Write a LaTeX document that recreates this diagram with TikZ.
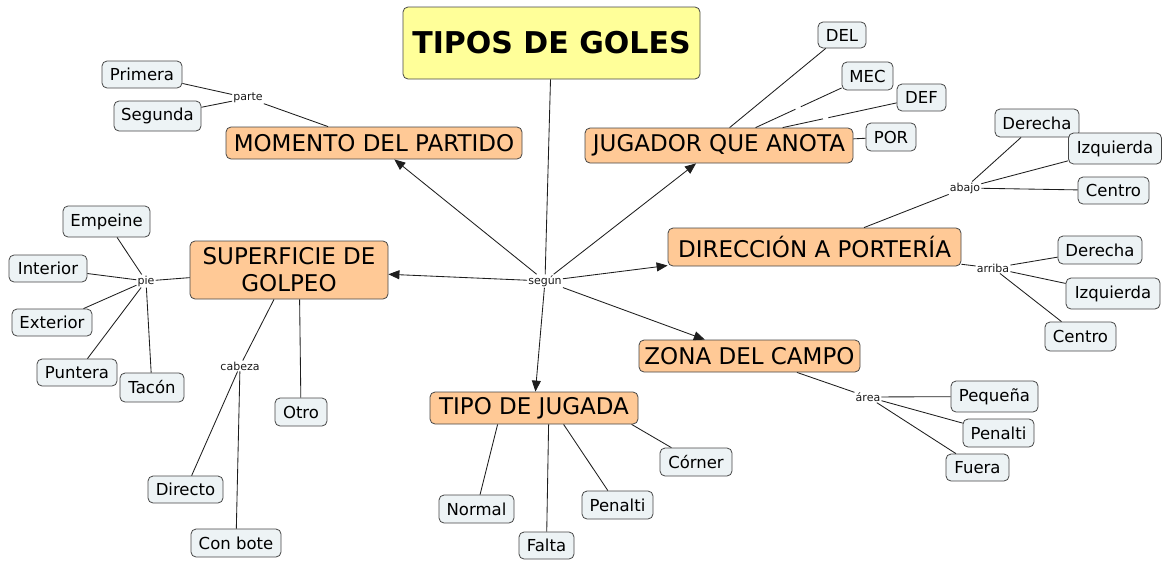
\documentclass[tikz,border=0pt]{standalone}
\usepackage{fontspec}
\setmainfont{DejaVu Sans}
\usetikzlibrary{arrows.meta,calc}
\definecolor{orangec}{RGB}{255,201,150}
\definecolor{leafc}{RGB}{237,243,245}
\definecolor{titlec}{RGB}{255,255,153}
\definecolor{bordc}{RGB}{70,70,70}
\definecolor{linec}{RGB}{30,30,30}
\tikzset{
  base/.style={draw=bordc, line width=0.8pt, rounded corners=5pt, inner sep=0pt, align=center},
  titlebox/.style={base, fill=titlec, font=\fontsize{30}{34}\selectfont\bfseries},
  concept/.style={base, fill=orangec, font=\fontsize{23}{27}\selectfont},
  leaf/.style={base, fill=leafc, font=\fontsize{16.5}{19}\selectfont},
  lnk/.style={inner sep=1pt, font=\fontsize{11}{12}\selectfont, text=black!90},
  gapn/.style={inner sep=0pt, minimum size=5pt},
  conn/.style={draw=linec, line width=0.85pt},
  arr/.style={conn, -{Triangle[length=11pt,width=9pt]}},
}
\begin{document}
\begin{tikzpicture}[x=1pt,y=-1pt]
\useasboundingbox (0,0) rectangle (1162,560);
% main nodes
\node[titlebox, minimum width=297, minimum height=72] (title) at (551.5,43) {TIPOS DE GOLES};
\node[concept, minimum width=296, minimum height=32] (mom) at (374,143) {MOMENTO DEL PARTIDO};
\node[concept, minimum width=268, minimum height=35] (jug) at (719,145.5) {JUGADOR QUE ANOTA};
\node[concept, minimum width=198, minimum height=58] (sup) at (289,270) {SUPERFICIE DE\\GOLPEO};
\node[concept, minimum width=293, minimum height=38] (dir) at (814.5,247) {DIRECCIÓN A PORTERÍA};
\node[concept, minimum width=221, minimum height=32] (zona) at (749.5,356) {ZONA DEL CAMPO};
\node[concept, minimum width=208, minimum height=32] (tipo) at (534,408) {TIPO DE JUGADA};
% link labels
\node[lnk] (segun) at (545,281) {según};
\node[lnk] (parte) at (248,98) {parte};
\node[lnk] (abajo) at (965,188) {abajo};
\node[lnk] (arriba) at (993,268) {arriba};
\node[lnk] (area) at (868,397) {área};
\node[lnk] (pie) at (146,281) {pie};
\node[lnk] (cabeza) at (240,366) {cabeza};
% leaves
\node[leaf, minimum width=80, minimum height=27] (primera) at (142,74.5) {Primera};
\node[leaf, minimum width=87, minimum height=30] (segunda) at (157.5,116) {Segunda};
\node[leaf, minimum width=48, minimum height=26] (del) at (842,35) {DEL};
\node[leaf, minimum width=51, minimum height=28] (mec) at (867.5,76) {MEC};
\node[leaf, minimum width=49, minimum height=27] (def) at (921.5,97.5) {DEF};
\node[leaf, minimum width=50, minimum height=28] (por) at (891,137) {POR};
\node[leaf, minimum width=84, minimum height=28] (der1) at (1037,123) {Derecha};
\node[leaf, minimum width=93, minimum height=31] (izq1) at (1115,148.5) {Izquierda};
\node[leaf, minimum width=71, minimum height=27] (cen1) at (1113.5,190.5) {Centro};
\node[leaf, minimum width=84, minimum height=28] (der2) at (1100,250) {Derecha};
\node[leaf, minimum width=94, minimum height=31] (izq2) at (1113,293.5) {Izquierda};
\node[leaf, minimum width=71, minimum height=29] (cen2) at (1080.5,336.5) {Centro};
\node[leaf, minimum width=87, minimum height=31] (peq) at (994.5,396.5) {Pequeña};
\node[leaf, minimum width=71, minimum height=28] (pen1) at (998.5,433) {Penalti};
\node[leaf, minimum width=63, minimum height=27] (fuera) at (977.5,467.5) {Fuera};
\node[leaf, minimum width=72, minimum height=28] (corner) at (696,462) {Córner};
\node[leaf, minimum width=71, minimum height=28] (pen2) at (617.5,505) {Penalti};
\node[leaf, minimum width=75, minimum height=28] (normal) at (476.5,509) {Normal};
\node[leaf, minimum width=55, minimum height=27] (falta) at (546.5,545.5) {Falta};
\node[leaf, minimum width=52, minimum height=28] (otro) at (301,412) {Otro};
\node[leaf, minimum width=75, minimum height=27] (directo) at (185.5,489.5) {Directo};
\node[leaf, minimum width=90, minimum height=28] (conbote) at (236,543) {Con bote};
\node[leaf, minimum width=87, minimum height=31] (empeine) at (106.5,221.5) {Empeine};
\node[leaf, minimum width=78, minimum height=27] (interior) at (48,268.5) {Interior};
\node[leaf, minimum width=80, minimum height=27] (exterior) at (52,322.5) {Exterior};
\node[leaf, minimum width=80, minimum height=27] (puntera) at (77,372.5) {Puntera};
\node[leaf, minimum width=64, minimum height=29] (tacon) at (152,387.5) {Tacón};
% attachment points
\coordinate (jdel) at ([xshift=145pt]jug.north west);
\coordinate (jmec) at ([xshift=171pt]jug.north west);
\coordinate (jdef) at ([xshift=198pt]jug.north west);
\node[gapn] (g1) at ($(jmec)!0.38!(mec)$) {};
\node[gapn] (g2) at ($(jdef)!0.31!(def)$) {};
\coordinate (tnor) at ([xshift=68pt]tipo.south west);
\coordinate (tfal) at ([xshift=119pt]tipo.south west);
\coordinate (tpen) at ([xshift=134pt]tipo.south west);
\coordinate (tcor) at ([xshift=202pt]tipo.south west);
\coordinate (sotr) at ([xshift=110pt]sup.south west);
% connectors from centre
\draw[conn] (title) -- (segun);
\draw[arr] (segun) -- (mom);
\draw[arr] (segun) -- (jug);
\draw[arr] (segun) -- (sup);
\draw[arr] (segun) -- (dir);
\draw[arr] (segun) -- (zona);
\draw[arr] (segun) -- (tipo);
% momento
\draw[conn] (mom) -- (parte);
\draw[conn] (parte) -- (primera);
\draw[conn] (parte) -- (segunda);
% jugador
\draw[conn] (jdel) -- (del);
\draw[conn] (jmec) -- (g1) -- (mec);
\draw[conn] (jdef) -- (g2) -- (def);
\draw[conn] (jug) -- (por);
% direccion
\draw[conn] (dir) -- (abajo);
\draw[conn] (abajo) -- (der1);
\draw[conn] (abajo) -- (izq1);
\draw[conn] (abajo) -- (cen1);
\draw[conn] (dir) -- (arriba);
\draw[conn] (arriba) -- (der2);
\draw[conn] (arriba) -- (izq2);
\draw[conn] (arriba) -- (cen2);
% zona
\draw[conn] (zona) -- (area);
\draw[conn] (area) -- (peq);
\draw[conn] (area) -- (pen1);
\draw[conn] (area) -- (fuera);
% tipo
\draw[conn] (tnor) -- (normal);
\draw[conn] (tfal) -- (falta);
\draw[conn] (tpen) -- (pen2);
\draw[conn] (tcor) -- (corner);
% superficie
\draw[conn] (sup) -- (pie);
\draw[conn] (pie) -- (empeine);
\draw[conn] (pie) -- (interior);
\draw[conn] (pie) -- (exterior);
\draw[conn] (pie) -- (puntera);
\draw[conn] (pie) -- (tacon);
\draw[conn] (sup) -- (cabeza);
\draw[conn] (cabeza) -- (directo);
\draw[conn] (cabeza) -- (conbote);
\draw[conn] (sotr) -- (otro);
\end{tikzpicture}
\end{document}
